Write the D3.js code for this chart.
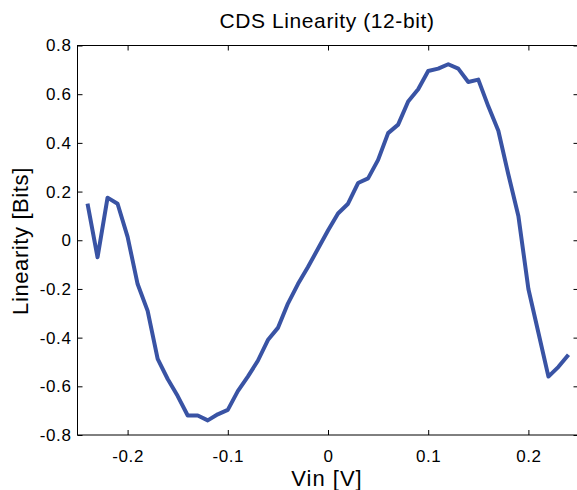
<!DOCTYPE html>
<html>
<head>
<meta charset="utf-8">
<script src="https://cdn.jsdelivr.net/npm/d3@7"></script>
<style>
  body { margin: 0; background: #fff; }
  svg { display: block; }
  text { font-family: "Liberation Sans", Arial, Helvetica, sans-serif; fill: #000; }
</style>
</head>
<body>
<svg></svg>
<script>
// data (Vin in volts, linearity in bits)
const vin = [-0.24, -0.23, -0.22, -0.21, -0.20, -0.19, -0.18, -0.17, -0.16, -0.15,
             -0.14, -0.13, -0.12, -0.11, -0.10, -0.09, -0.08, -0.07, -0.06, -0.05,
             -0.04, -0.03, -0.02, -0.01, 0.00, 0.01, 0.02, 0.03, 0.04, 0.05,
             0.06, 0.07, 0.08, 0.09, 0.10, 0.11, 0.12, 0.13, 0.14, 0.15,
             0.16, 0.17, 0.18, 0.19, 0.20, 0.21, 0.22, 0.23, 0.24];
const linearity = [0.15, -0.07, 0.175, 0.15, 0.014, -0.18, -0.29, -0.487, -0.57, -0.64,
                   -0.72, -0.72, -0.74, -0.715, -0.697, -0.62, -0.56, -0.495, -0.41, -0.36,
                   -0.26, -0.18, -0.11, -0.035, 0.04, 0.11, 0.15, 0.235, 0.254, 0.33,
                   0.44, 0.475, 0.57, 0.62, 0.695, 0.705, 0.723, 0.705, 0.65, 0.66,
                   0.55, 0.45, 0.27, 0.10, -0.2, -0.38, -0.56, -0.52, -0.47];
const xTicks = [-0.2, -0.1, 0, 0.1, 0.2];
const yTicks = [-0.8, -0.6, -0.4, -0.2, 0, 0.2, 0.4, 0.6, 0.8];

const WIDTH = 577, HEIGHT = 490;
const mLeft = 77.5, mRight = 578.5, mTop = 45.5, mBottom = 435;

let svg = d3.select('svg').attr('width', WIDTH).attr('height', HEIGHT);

let xScale = d3.scaleLinear().domain([-0.25, 0.25]).range([mLeft, mRight]);
let yScale = d3.scaleLinear().domain([-0.8, 0.8]).range([mBottom, mTop]);

const fmt = d => d === 0 ? '0' : d3.format('.1f')(d).replace('\u2212', '-');

// box
svg.append('rect')
  .attr('x', mLeft).attr('y', mTop)
  .attr('width', mRight - mLeft).attr('height', mBottom - mTop)
  .attr('fill', 'none').attr('stroke', '#000').attr('stroke-width', 1);

// axes with inward ticks
svg.append('g').attr('transform', `translate(0,${mBottom})`)
  .call(d3.axisBottom(xScale).tickValues(xTicks).tickSize(-5).tickPadding(15).tickFormat(fmt));
svg.append('g').attr('transform', `translate(0,${mTop})`)
  .call(d3.axisTop(xScale).tickValues(xTicks).tickSize(-5).tickFormat(''));
svg.append('g').attr('transform', `translate(${mLeft},0)`)
  .call(d3.axisLeft(yScale).tickValues(yTicks).tickSize(-5).tickPadding(6).tickFormat(fmt));
svg.append('g').attr('transform', `translate(${mRight},0)`)
  .call(d3.axisRight(yScale).tickValues(yTicks).tickSize(-5).tickFormat(''));

svg.selectAll('.domain').remove();
svg.selectAll('.tick line').attr('stroke', '#000');
svg.selectAll('.tick text').style('font-size', '17px').style('letter-spacing', '0.6px');

// the curve
let line = d3.line().x((d, i) => xScale(vin[i])).y(d => yScale(d));
svg.append('path')
  .datum(linearity)
  .attr('d', line)
  .attr('fill', 'none')
  .attr('stroke', '#3953a4')
  .attr('stroke-width', 4)
  .attr('stroke-linejoin', 'round');

// labels
svg.append('text').attr('x', 327).attr('y', 28).attr('text-anchor', 'middle')
  .style('font-size', '21px').style('letter-spacing', '0.6px').text('CDS Linearity (12-bit)');
svg.append('text').attr('x', 327).attr('y', 486).attr('text-anchor', 'middle')
  .style('font-size', '22px').style('letter-spacing', '1px').text('Vin [V]');
svg.append('text').attr('transform', 'translate(28,241) rotate(-90)').attr('text-anchor', 'middle')
  .style('font-size', '22px').style('letter-spacing', '0.6px').text('Linearity [Bits]');
</script>
</body>
</html>
